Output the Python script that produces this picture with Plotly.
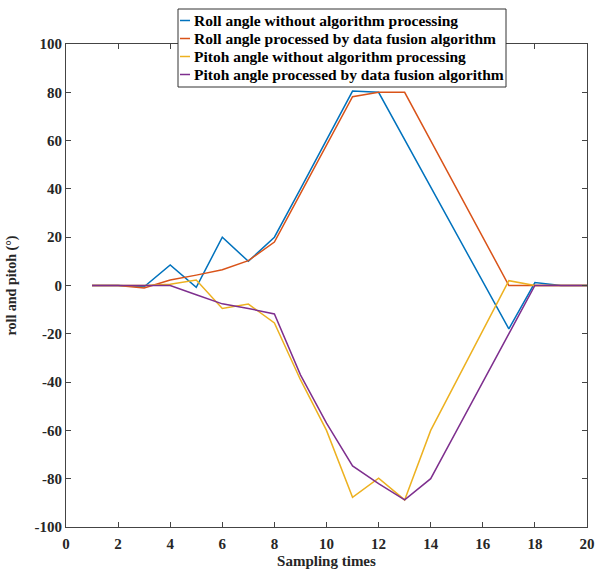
import plotly.graph_objects as go

samples = list(range(1, 21))
roll_raw = [0, 0, -0.5, 8.5, -0.8, 20, 10, 20, 40, 60, 80.5, 80, 60.4, 40.8, 21.2, 1.6, -18, 1.2, 0, 0]
roll_fused = [0, 0, -1, 2.3, 4.3, 6.5, 10.3, 18, 38, 58, 78.2, 80, 80, 60, 40, 20, 0, 0, 0, 0]
pitch_raw = [0, 0, 0, 0.5, 2.3, -9.5, -7.7, -15.5, -39, -60, -87.7, -79.8, -88.8, -60, -39.5, -19, 2, 0, 0, 0]
pitch_fused = [0, 0, 0, 0, -3.8, -7.6, -9.5, -11.8, -37, -57, -74.7, -82, -88.8, -80, -60, -40, -20, 0, 0, 0]

names = [
    "Roll angle without algorithm processing",
    "Roll angle processed by data fusion algorithm",
    "Pitoh angle without algorithm processing",
    "Pitoh angle processed by data fusion algorithm",
]
colors = ["#0072BD", "#D95319", "#EDB120", "#7E2F8E"]
series = [roll_raw, roll_fused, pitch_raw, pitch_fused]

FONT = "Liberation Serif"

fig = go.Figure()
for name, col, vals in zip(names, colors, series):
    fig.add_trace(go.Scatter(x=samples, y=vals, mode="lines", name=name,
                             line=dict(color=col, width=1.5), showlegend=False))

W, H = 597, 569
L, T = 66, 44
pw, ph = 521, 483
R, B = W - L - pw, H - T - ph

def px2x(p):
    return (p - L) / pw

def py2y(p):
    return (T + ph - p) / ph

shapes = []
annotations = []
shapes.append(dict(type="rect", xref="paper", yref="paper",
                   x0=px2x(178), x1=px2x(506), y0=py2y(87), y1=py2y(9),
                   line=dict(color="#333333", width=1), fillcolor="white", layer="above"))
rows = [20.5, 38.5, 56.5, 74.5]
for name, col, yy in zip(names, colors, rows):
    shapes.append(dict(type="line", xref="paper", yref="paper",
                       x0=px2x(180), x1=px2x(190), y0=py2y(yy), y1=py2y(yy),
                       line=dict(color=col, width=1.5), layer="above"))
    annotations.append(dict(xref="paper", yref="paper", x=px2x(192), y=py2y(yy),
                            xanchor="left", yanchor="middle", showarrow=False,
                            text="<b>" + name + "</b>",
                            font=dict(family=FONT, size=15.5, color="black")))

fig.update_layout(
    width=W, height=H,
    margin=dict(l=L, r=R, t=T, b=B),
    paper_bgcolor="white", plot_bgcolor="white",
    font=dict(family=FONT, size=15, color="#262626"),
    shapes=shapes, annotations=annotations,
    xaxis=dict(range=[0, 20], tickmode="array", tickvals=list(range(0, 21, 2)),
               ticktext=["<b>%d</b>" % v for v in range(0, 21, 2)],
               ticks="inside", ticklen=5, tickcolor="#444", showline=True, linecolor="#444",
               linewidth=1, mirror="ticks", showgrid=False, zeroline=False, automargin=False,
               ticklabelstandoff=3, ticklabeloverflow="allow",
               title=dict(text="<b>Sampling times</b>", standoff=10,
                          font=dict(family=FONT, size=15, color="#262626"))),
    yaxis=dict(range=[-100, 100], tickmode="array", tickvals=list(range(-100, 101, 20)),
               ticktext=["<b>%d</b>" % v for v in range(-100, 101, 20)],
               ticks="inside", ticklen=5, tickcolor="#444", showline=True, linecolor="#444",
               linewidth=1, mirror="ticks", showgrid=False, zeroline=False, automargin=False,
               title=dict(text="<b>roll and pitoh (°)</b>", standoff=14,
                          font=dict(family=FONT, size=14, color="#262626"))),
)

fig.write_html("out.html",
               config={"displayModeBar": False},
               post_script="document.documentElement.style.overflow='hidden';"
                           "document.body.style.overflow='hidden';"
                           "document.body.style.margin='0';")
